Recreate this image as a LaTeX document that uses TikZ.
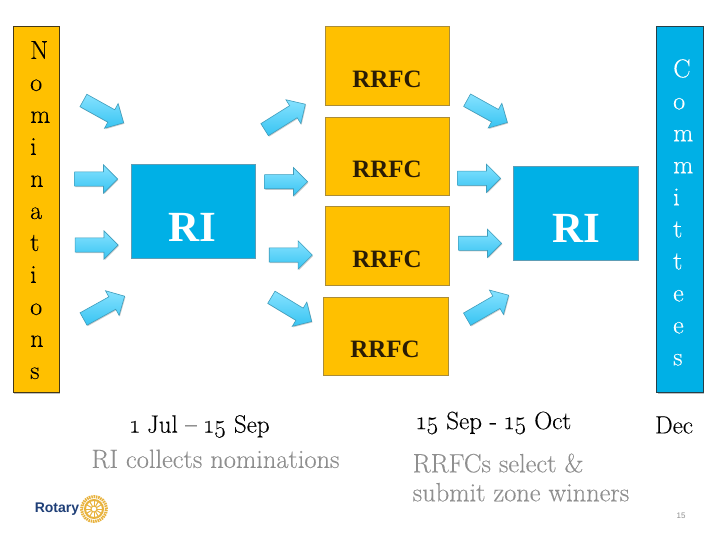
\documentclass[tikz,border=0pt]{standalone}
\usepackage{fontspec}
\setmainfont{Liberation Serif}
\newfontfamily\lmfont[Numbers=OldStyle,FakeBold=0.25]{Latin Modern Roman}
\newfontfamily\logofont{Liberation Sans}
\usetikzlibrary{shapes.arrows,shadows}
\definecolor{amberfill}{HTML}{FFC000}
\definecolor{amberline}{HTML}{A98C3A}
\definecolor{skyfill}{HTML}{00B0E6}
\definecolor{skyline}{HTML}{5E9DB5}
\definecolor{arrowline}{HTML}{3F9DBC}
\definecolor{arrowlight}{HTML}{86E2FF}
\definecolor{arrowdark}{HTML}{38C4F2}
\definecolor{greytext}{HTML}{8F8F8F}
\definecolor{rrfctext}{HTML}{2A1C05}
\definecolor{rotaryblue}{HTML}{1F3F77}
\definecolor{rotarygold}{HTML}{E8B23C}
\tikzset{
  x=1pt,y=-1pt,
  amberbox/.style={draw=amberline,fill=amberfill,line width=0.8pt,inner sep=0,anchor=north west},
  skybox/.style={draw=skyline,fill=skyfill,line width=0.8pt,inner sep=0,anchor=north west},
  sidebar/.style={line width=0.9pt,inner sep=0,anchor=north west,drop shadow={shadow xshift=1.5pt,shadow yshift=-1.5pt,opacity=0.25,fill=black}},
  blockarrow/.style={single arrow,draw=arrowline,line width=0.6pt,inner sep=6.8pt,
    single arrow head extend=7pt,single arrow tip angle=90,anchor=tip,
    top color=arrowlight,bottom color=arrowdark,minimum width=27pt,
    drop shadow={shadow xshift=0.8pt,shadow yshift=-1pt,opacity=0.2,fill=black}},
  tall/.style={font=\lmfont\fontsize{26}{32}\selectfont,align=left,anchor=north west,inner sep=0},
  rrfc/.style={font=\bfseries\fontsize{25}{28}\selectfont,text=rrfctext,inner sep=0},
  ritext/.style={font=\bfseries\fontsize{43}{45}\selectfont,text=white,inner sep=0},
  datetext/.style={font=\lmfont\fontsize{25}{29}\selectfont,inner sep=0},
  graytext/.style={font=\lmfont\fontsize{26.4}{29}\selectfont,text=greytext,inner sep=0},
}
\begin{document}
\begin{tikzpicture}
\useasboundingbox (0,0) rectangle (720,540);
\fill[white] (0,0) rectangle (720,540);
% side bars
\node[sidebar,draw=black!60!amberline,fill=amberfill,minimum width=46pt,minimum height=365.5pt] (nombar) at (12.5,26.5) {};
\node[sidebar,draw=black!60!skyline,fill=skyfill,minimum width=46.5pt,minimum height=365.5pt] (combar) at (656,26.5) {};
\node[tall] (nomtext) at (30,41) {N\\o\\m\\i\\n\\a\\t\\i\\o\\n\\s};
\node[tall,text=white] (comtext) at (673,59) {C\\o\\m\\m\\i\\t\\t\\e\\e\\s};
% RI boxes
\node[skybox,minimum width=124.5pt,minimum height=93pt] (rileft) at (130.5,164.5) {};
\node[skybox,minimum width=124.5pt,minimum height=94pt] (riright) at (513,166) {};
\node[ritext] (rilefttext) at (192,227) {RI};
\node[ritext] (ririghttext) at (576,228) {RI};
% RRFC boxes
\node[amberbox,minimum width=124pt,minimum height=79pt] (rrfca) at (324.5,26.5) {};
\node[amberbox,minimum width=124pt,minimum height=78pt] (rrfcb) at (324.5,117.5) {};
\node[amberbox,minimum width=124pt,minimum height=78pt] (rrfcc) at (324.5,206.5) {};
\node[amberbox,minimum width=125pt,minimum height=78pt] (rrfcd) at (322.5,296.5) {};
\node[rrfc] (ta) at (387,79) {RRFC};
\node[rrfc] (tb) at (387,169.5) {RRFC};
\node[rrfc] (tc) at (387,259.5) {RRFC};
\node[rrfc] (td) at (385,349.5) {RRFC};
% block arrows, placed by tip
\node[blockarrow,rotate=-29,minimum height=46pt] (a1) at (124,123) {};
\node[blockarrow,minimum height=43pt] (a2) at (118,179) {};
\node[blockarrow,minimum height=43pt] (a3) at (118.5,245) {};
\node[blockarrow,rotate=29,minimum height=47pt] (a4) at (125,296) {};
\node[blockarrow,rotate=32,minimum height=48pt] (b1) at (305.7,104) {};
\node[blockarrow,minimum height=43pt] (b2) at (308,181.7) {};
\node[blockarrow,minimum height=43pt] (b3) at (312.7,255) {};
\node[blockarrow,rotate=-31,minimum height=47pt] (b4) at (312,321.7) {};
\node[blockarrow,rotate=-29,minimum height=46pt] (c1) at (507.7,122.7) {};
\node[blockarrow,minimum height=43pt] (c2) at (501,178.3) {};
\node[blockarrow,minimum height=43pt] (c3) at (502,243.3) {};
\node[blockarrow,rotate=30,minimum height=48pt] (c4) at (509,295) {};
% captions
\node[datetext] (d1) at (200,426.5) {1 Jul – 15 Sep};
\node[graytext] (d1b) at (215.5,459) {RI collects nominations};
\node[datetext] (d2) at (494,423) {15 Sep - 15 Oct};
\node[graytext,align=left] (d2b) at (521,477.5) {RRFCs select \&\\submit zone winners};
\node[datetext] (d3) at (674,425) {Dec};
% logo
\node[font=\logofont\bfseries\fontsize{14}{15}\selectfont,text=rotaryblue,inner sep=0] (rotary) at (57,509) {Rotary};
\node[circle,draw=rotarygold,line width=3pt,dashed,dash pattern=on 1.5pt off 0.8pt,inner sep=0,minimum size=25pt] (wheel) at (94,509) {};
\node[circle,draw=rotarygold,line width=2pt,inner sep=0,minimum size=18pt] (wheelin) at (94,509) {};
\foreach \a in {0,30,...,150}{\draw[rotarygold,line width=1pt] (94,509)+(\a:8) -- +(\a+180:8);}
\node[circle,fill=white,draw=rotarygold,line width=1pt,inner sep=0,minimum size=6pt] (hub) at (94,509) {};
\node[font=\logofont\fontsize{8}{9}\selectfont,text=greytext,inner sep=0] (pagenum) at (681,516) {15};
\end{tikzpicture}
\end{document}
